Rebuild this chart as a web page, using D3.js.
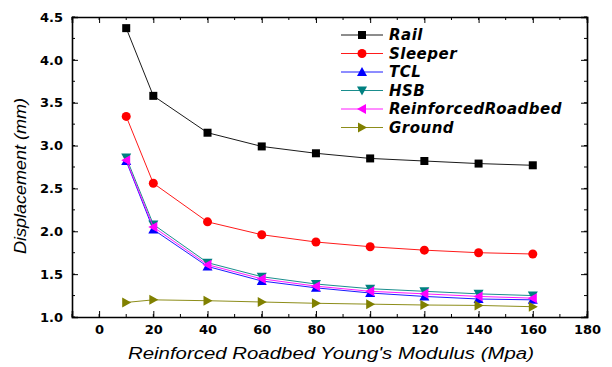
<!DOCTYPE html>
<html>
<head>
<meta charset="utf-8">
<script src="https://cdn.jsdelivr.net/npm/d3@7"></script>
<style>
  body { margin: 0; background: #fff; }
  text { font-family: "Liberation Sans", Arial, sans-serif; }
  .tick text { font-family: "DejaVu Sans", sans-serif; font-weight: bold; font-size: 13px; }
  .legend text { font-family: "DejaVu Sans", sans-serif; font-weight: bold; font-style: italic; font-size: 15px; letter-spacing: 0.5px; }
</style>
</head>
<body>
<svg id="chart" width="612" height="367"></svg>
<script>
var modulus = [10, 20, 40, 60, 80, 100, 120, 140, 160];

var rail       = [4.37, 3.58, 3.15, 2.99, 2.91, 2.85, 2.82, 2.79, 2.77];
var sleeper    = [3.34, 2.56, 2.11, 1.96, 1.875, 1.82, 1.78, 1.75, 1.735];
var tcl        = [2.82, 2.02, 1.59, 1.42, 1.34, 1.28, 1.24, 1.21, 1.20];
var hsb        = [2.86, 2.08, 1.634, 1.47, 1.385, 1.33, 1.30, 1.27, 1.25];
var reinforced = [2.83, 2.05, 1.61, 1.445, 1.36, 1.30, 1.27, 1.24, 1.22];
var ground     = [1.17, 1.20, 1.19, 1.175, 1.16, 1.15, 1.14, 1.135, 1.12];

var xTicks = [0, 20, 40, 60, 80, 100, 120, 140, 160, 180];
var yTicks = [1.0, 1.5, 2.0, 2.5, 3.0, 3.5, 4.0, 4.5];

var series = [
  {name: "Rail", values: rail, color: "#000000", shape: "square"},
  {name: "Sleeper", values: sleeper, color: "#ff0000", shape: "circle"},
  {name: "TCL", values: tcl, color: "#0000ff", shape: "up"},
  {name: "HSB", values: hsb, color: "#008080", shape: "down"},
  {name: "ReinforcedRoadbed", values: reinforced, color: "#ff00ff", shape: "left"},
  {name: "Ground", values: ground, color: "#808000", shape: "right"}
];

var svg = d3.select("#chart"),
    mLeft = 72, mRight = 587, mTop = 17, mBottom = 317;

var x = d3.scaleLinear().domain([-10, 180]).range([mLeft, mRight]);
var y = d3.scaleLinear().domain([1.0, 4.5]).range([mBottom, mTop]);

var minorX = d3.range(-10, 181, 10),
    minorY = d3.range(1.0, 4.51, 0.25);

// axes: ticks point inward
svg.append("g")
  .attr("transform", "translate(0," + mBottom + ")")
  .call(d3.axisBottom(x).tickValues(xTicks).tickSize(-6).tickPadding(8).tickFormat(d3.format("d")));

svg.append("g")
  .attr("transform", "translate(" + mLeft + ",0)")
  .call(d3.axisLeft(y).tickValues(yTicks).tickSize(-6).tickPadding(9).tickFormat(d3.format(".1f")));

svg.append("g")
  .attr("transform", "translate(0," + mTop + ")")
  .call(d3.axisTop(x).tickValues(xTicks).tickSize(-6).tickFormat(""));

svg.append("g")
  .attr("transform", "translate(" + mRight + ",0)")
  .call(d3.axisRight(y).tickValues(yTicks).tickSize(-6).tickFormat(""));

// minor ticks
function minor(g, vals, scale, horiz, pos, dir) {
  g.selectAll(null).data(vals).enter().append("line")
    .attr("x1", function(d){ return horiz ? scale(d) : pos; })
    .attr("x2", function(d){ return horiz ? scale(d) : pos + dir * 3; })
    .attr("y1", function(d){ return horiz ? pos : scale(d); })
    .attr("y2", function(d){ return horiz ? pos + dir * 3 : scale(d); })
    .attr("stroke", "#000");
}
var mg = svg.append("g");
minor(mg, minorX, x, true, mBottom, -1);
minor(mg, minorX, x, true, mTop, 1);
minor(mg, minorY, y, false, mLeft, 1);
minor(mg, minorY, y, false, mRight, -1);

svg.selectAll(".domain").attr("stroke-width", 1.6);
svg.selectAll(".tick line").attr("stroke-width", 1);

// axis titles
svg.append("text")
  .attr("x", 331)
  .attr("y", 359)
  .attr("text-anchor", "middle")
  .attr("textLength", 406)
  .attr("lengthAdjust", "spacingAndGlyphs")
  .style("font-style", "italic")
  .style("font-size", "16px")
  .text("Reinforced Roadbed Young's Modulus (Mpa)");

svg.append("text")
  .attr("transform", "translate(26,176) rotate(-90)")
  .attr("text-anchor", "middle")
  .attr("textLength", 156)
  .attr("lengthAdjust", "spacingAndGlyphs")
  .style("font-style", "italic")
  .style("font-size", "16px")
  .text("Displacement (mm)");

function marker(g, shape, color) {
  var s = 5;
  if (shape === "square") {
    g.append("rect").attr("x", -4).attr("y", -4).attr("width", 8).attr("height", 8).attr("fill", color);
  } else if (shape === "circle") {
    g.append("circle").attr("r", 4.5).attr("fill", color);
  } else {
    var pts = {
      up:    [[0, -s], [s, s * 0.8], [-s, s * 0.8]],
      down:  [[0, s], [s, -s * 0.8], [-s, -s * 0.8]],
      left:  [[-s, 0], [s * 0.8, -s], [s * 0.8, s]],
      right: [[s, 0], [-s * 0.8, -s], [-s * 0.8, s]]
    }[shape];
    g.append("polygon").attr("points", pts.map(function(p){ return p.join(","); }).join(" ")).attr("fill", color);
  }
}

var line = d3.line()
  .x(function(d){ return x(d[0]); })
  .y(function(d){ return y(d[1]); });

series.forEach(function(s) {
  var pts = modulus.map(function(m, i){ return [m, s.values[i]]; });
  svg.append("path")
    .attr("d", line(pts))
    .attr("fill", "none")
    .attr("stroke", s.color)
    .attr("stroke-width", 0.9);
  svg.append("g").selectAll("g").data(pts).enter().append("g")
    .attr("transform", function(d){ return "translate(" + x(d[0]) + "," + y(d[1]) + ")"; })
    .each(function(){ marker(d3.select(this), s.shape, s.color); });
});

// legend
var legend = svg.append("g").attr("class", "legend").attr("transform", "translate(341,35)");
series.forEach(function(s, i) {
  var row = legend.append("g").attr("transform", "translate(0," + (i * 18.5) + ")");
  row.append("line").attr("x1", 0).attr("x2", 42).attr("stroke", s.color).attr("stroke-width", 0.9);
  marker(row.append("g").attr("transform", "translate(21,0)"), s.shape, s.color);
  row.append("text")
    .attr("x", 48).attr("y", 5)
    .text(s.name);
});
</script>
</body>
</html>
